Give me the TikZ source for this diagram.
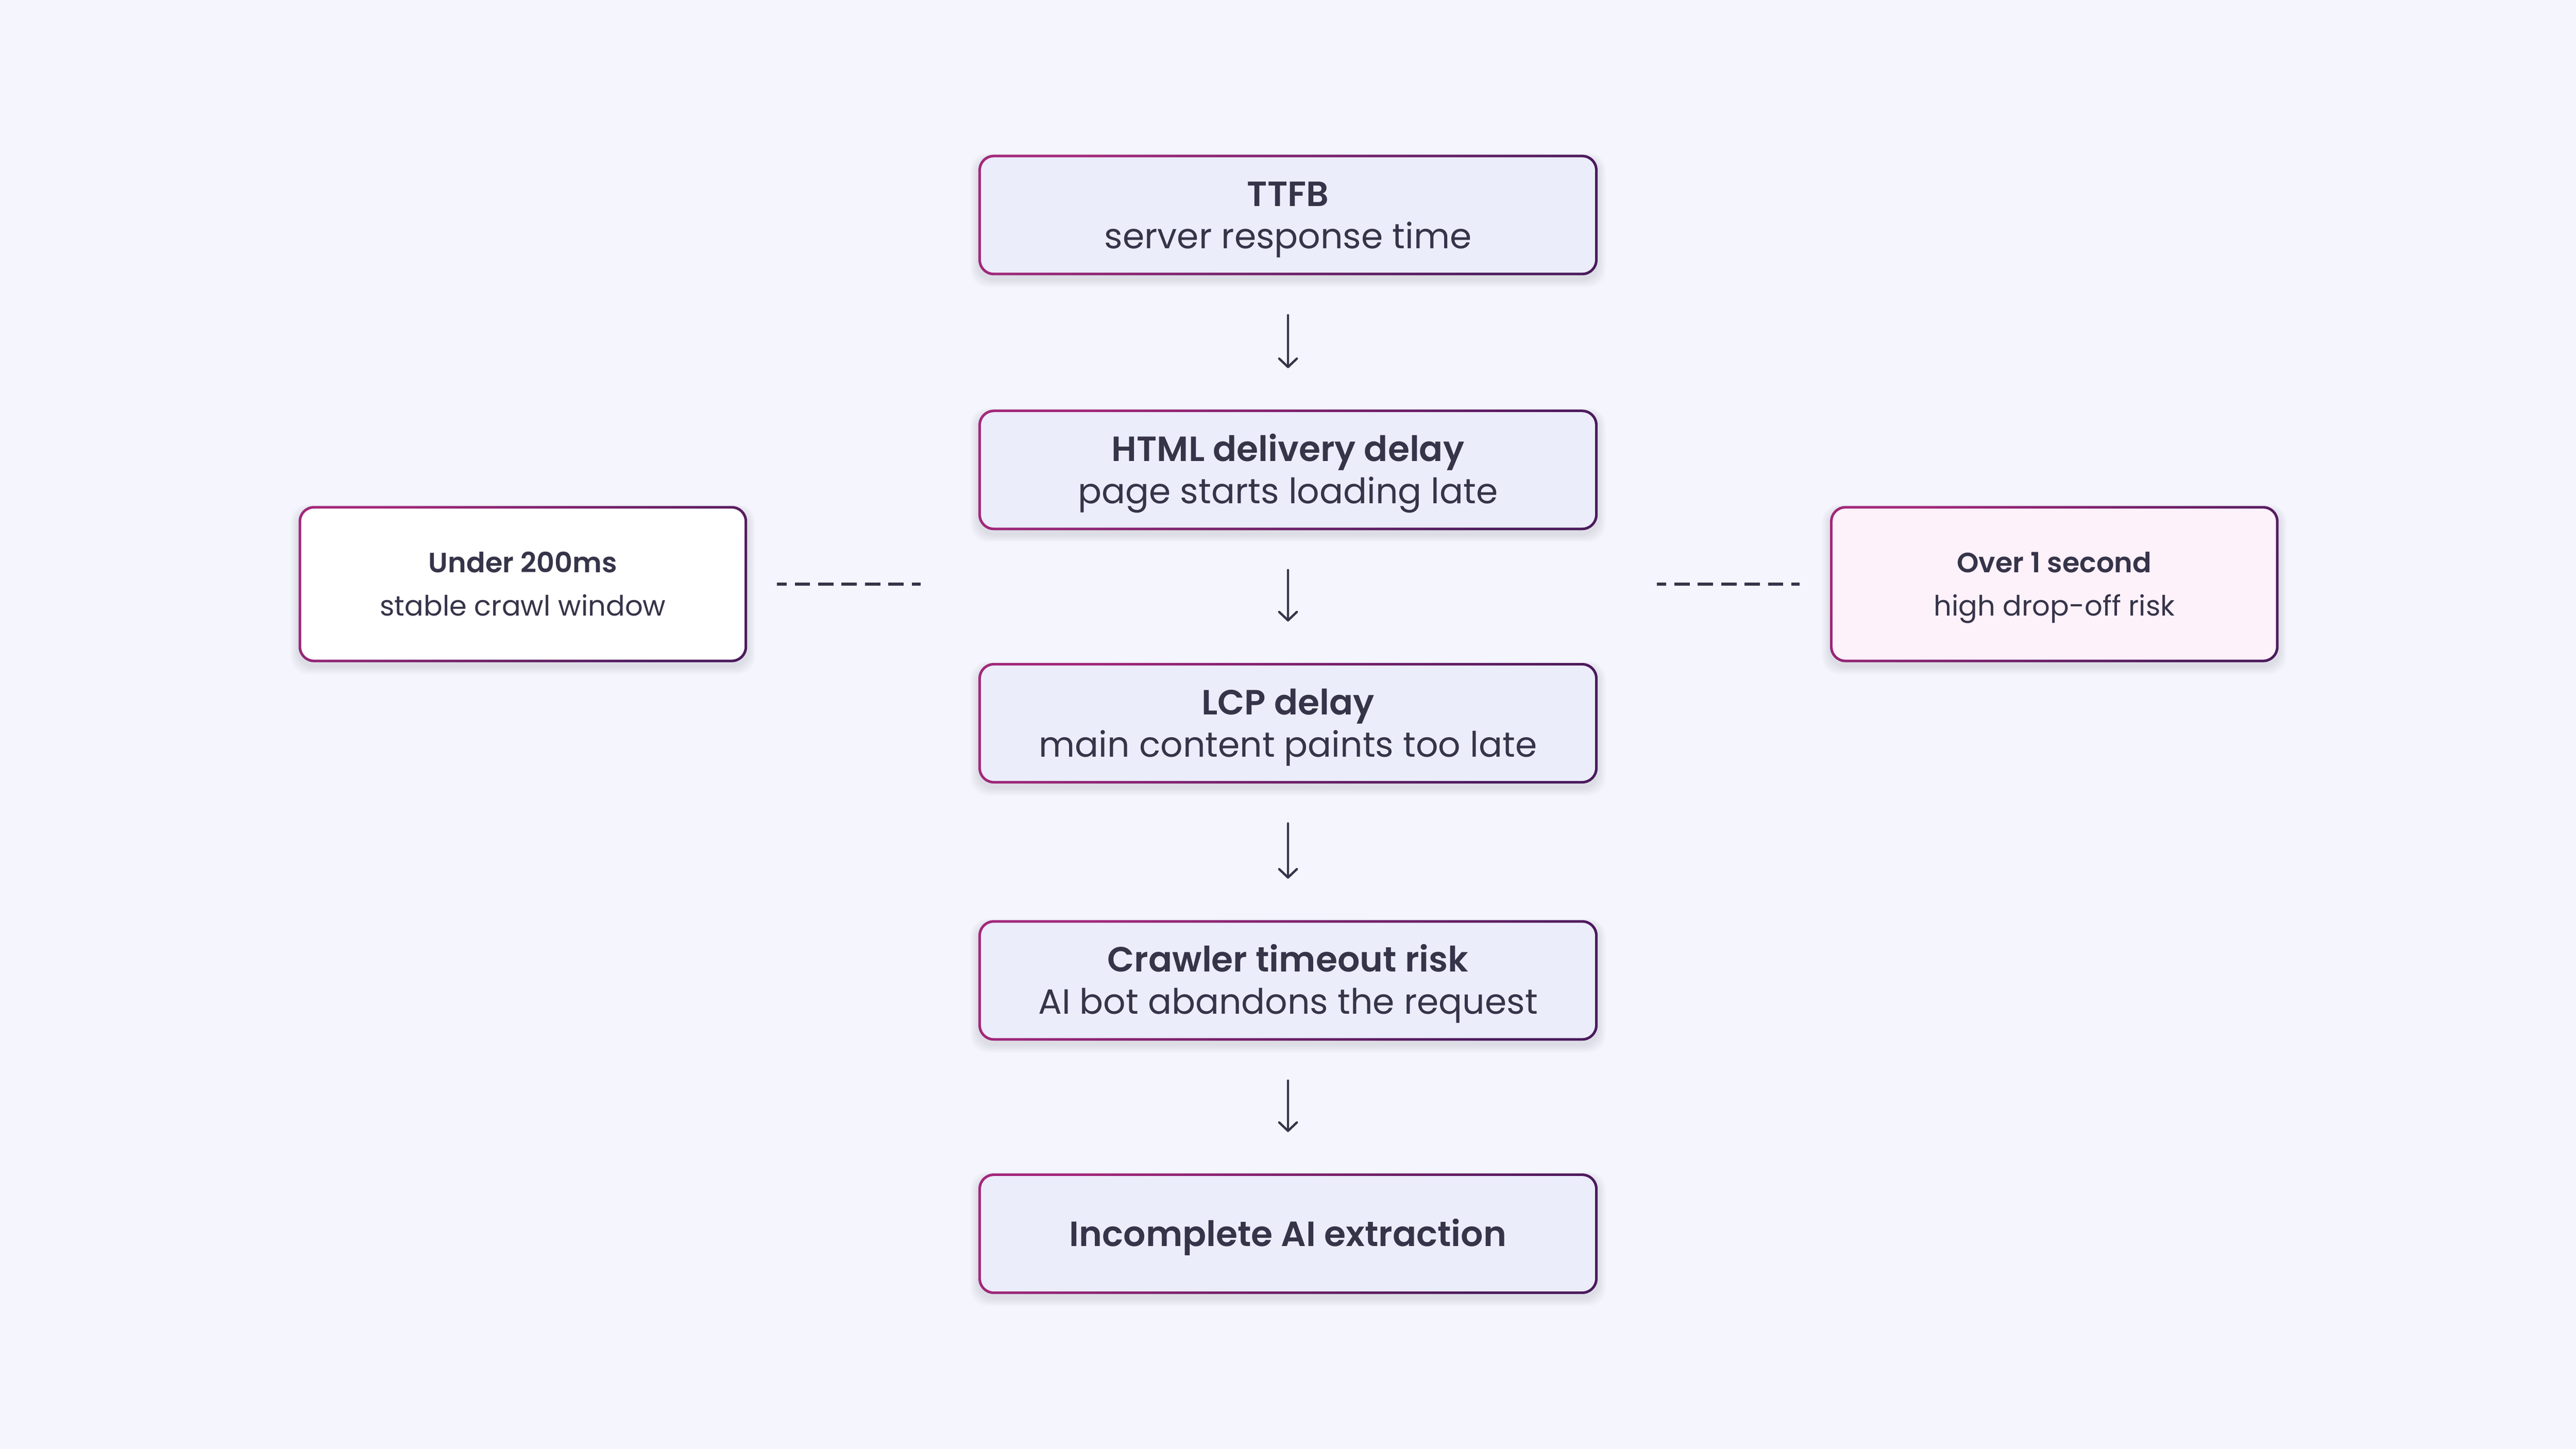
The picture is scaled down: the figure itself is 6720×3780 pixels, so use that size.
\documentclass[tikz,border=0pt]{standalone}
\usepackage{fontspec}
\setmainfont{Poppins}[BoldFont={Poppins SemiBold}]
\usetikzlibrary{arrows.meta,backgrounds}
\definecolor{bg}{HTML}{F5F6FD}
\definecolor{boxfill}{HTML}{EBEDFA}
\definecolor{pinkfill}{HTML}{FDF1FA}
\definecolor{ink}{HTML}{363449}
\definecolor{bmag}{HTML}{A3287B}
\definecolor{bpur}{HTML}{4A1A5C}
\newcommand\twoline[3]{\vtop{\baselineskip=#3\lineskiplimit=-\maxdimen\lineskip=0pt\halign{\hfil##\hfil\cr#1\cr#2\cr}}}
\newcommand\dgmt[1]{{\fontsize{26pt}{30pt}\selectfont\bfseries #1}}
\newcommand\dgms[1]{{\fontsize{26pt}{30pt}\selectfont #1}}
\newcommand\dgst[1]{{\fontsize{20.7pt}{26pt}\selectfont\bfseries #1}}
\newcommand\dgss[1]{{\fontsize{20.8pt}{26pt}\selectfont #1}}
\newcommand\frameit[1]{%
  \begin{scope}[on background layer]
    \foreach \k in {1,...,6}{%
      \fill[black,opacity=0.014,rounded corners=0.45cm]
        ([shift={(-0.06cm-\k*0.035cm,-0.16cm-\k*0.035cm)}]#1.south west) rectangle
        ([shift={(0.06cm+\k*0.035cm,-0.02cm+\k*0.02cm)}]#1.north east);}
    \shade[framegrad] ([shift={(-0.06cm,-0.06cm)}]#1.south west) rectangle ([shift={(0.06cm,0.06cm)}]#1.north east);
  \end{scope}}
\begin{document}
\begin{tikzpicture}[x=0.01cm,y=-0.01cm,
  framegrad/.style={left color=bmag, right color=bpur, shading angle=45, rounded corners=0.4cm},
  mainbox/.style={draw=none, fill=boxfill, rounded corners=0.34cm, minimum width=16.01cm,
    minimum height=3.01cm, inner sep=0pt, text=ink, text height=0.65cm, text depth=1.10cm},
  endbox/.style={mainbox, text depth=0pt},
  sidebox/.style={draw=none, rounded corners=0.34cm, minimum width=11.56cm,
    minimum height=3.94cm, inner sep=0pt, text=ink, text height=0.52cm, text depth=1.13cm},
  flow/.style={draw=ink, line width=0.06cm, line cap=round,
    -{Straight Barb[length=0.22cm,width=0.46cm,line cap=round,line join=round]},
    shorten <=1.1cm, shorten >=1.14cm},
  dashline/.style={draw=ink, line width=0.09cm, dash pattern=on 0.40cm off 0.21cm, dash phase=0.15cm}]
\begin{scope}[on background layer]
  \fill[bg] (0,0) rectangle (6720,3780);
\end{scope}
\useasboundingbox (0,0) rectangle (6720,3780);

\node[mainbox] (ttfb) at (3360,561) {\twoline{\dgmt{TTFB}}{\dgms{server response time}}{1.10cm}};
\node[mainbox] (html) at (3360,1226) {\twoline{\dgmt{HTML delivery delay}}{\dgms{page starts loading late}}{1.10cm}};
\node[mainbox] (lcp) at (3360,1887) {\twoline{\dgmt{LCP delay}}{\dgms{main content paints too late}}{1.10cm}};
\node[mainbox] (crawl) at (3360,2558) {\twoline{\dgmt{Crawler timeout risk}}{\dgms{AI bot abandons the request}}{1.10cm}};
\node[endbox] (incomplete) at (3360,3219) {\dgmt{Incomplete AI extraction}};

\node[sidebox, fill=white] (under) at (1364,1524) {\twoline{\dgst{Under 200ms}}{\dgss{stable crawl window}}{1.13cm}};
\node[sidebox, fill=pinkfill] (over) at (5359,1524) {\twoline{\dgst{Over 1 second}}{\dgss{high drop-off risk}}{1.13cm}};

\frameit{ttfb}\frameit{html}\frameit{lcp}\frameit{crawl}\frameit{incomplete}
\frameit{under}\frameit{over}

\draw[flow] (ttfb.south) -- (html.north);
\draw[flow] (html.south) -- (lcp.north);
\draw[flow] (lcp.south) -- (crawl.north);
\draw[flow] (crawl.south) -- (incomplete.north);

\coordinate (dl) at (2402,1524);
\coordinate (dr) at (4322,1524);
\draw[dashline, shorten <=0.84cm] (under.east) -- (dl);
\draw[dashline, shorten >=0.85cm] (dr) -- (over.west);
\end{tikzpicture}
\end{document}
